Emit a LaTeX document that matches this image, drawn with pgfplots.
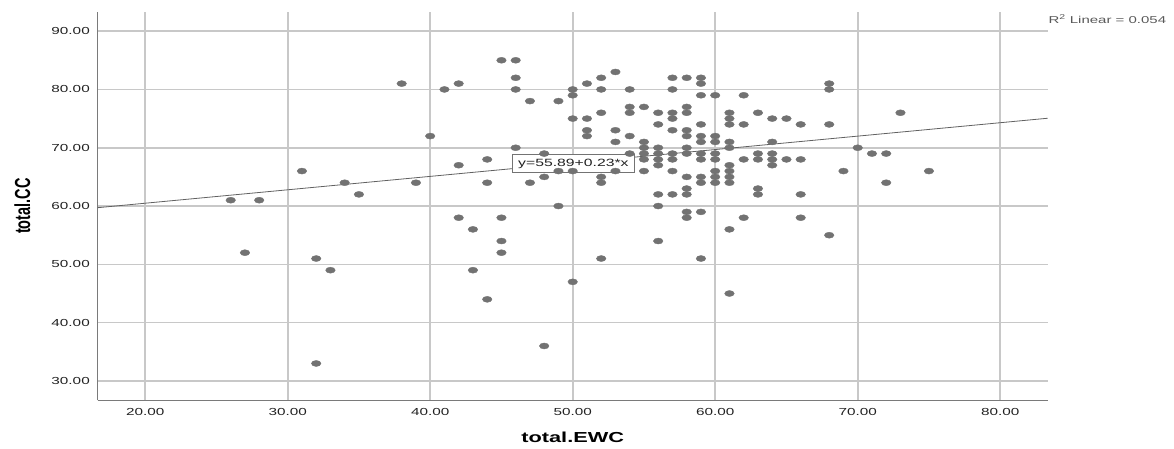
\documentclass[border=0pt]{standalone}
\usepackage{pgfplots}
\pgfplotsset{compat=1.18}
\usepackage{pgfplotstable}
\usepackage{fontspec}
\setmainfont{Liberation Sans}[FakeStretch=1.5]
\newfontfamily\ylabfont{Liberation Sans}
\definecolor{dotgray}{HTML}{727272}
\definecolor{gridgray}{HTML}{C8C8C8}
\definecolor{axisgray}{HTML}{7A7A7A}
\definecolor{txtgray}{HTML}{222222}

\pgfplotstableread{
x y
26 61
27 52
28 61
31 66
32 51
32 33
33 49
34 64
35 62
38 81
39 64
40 72
41 80
42 81
42 67
42 58
43 56
43 49
44 68
44 64
44 44
45 85
45 58
45 54
45 52
46 85
46 82
46 80
46 70
47 78
47 64
48 69
48 65
48 36
49 78
49 66
49 60
50 80
50 79
50 75
50 66
50 47
51 81
51 75
51 73
51 72
52 82
52 80
52 76
52 65
52 64
52 51
53 83
53 73
53 71
53 66
54 80
54 77
54 76
54 72
54 69
55 77
55 71
55 70
55 69
55 68
55 66
56 76
56 74
56 70
56 69
56 68
56 67
56 62
56 60
56 54
57 82
57 80
57 76
57 75
57 73
57 69
57 68
57 66
57 62
58 82
58 77
58 76
58 73
58 72
58 70
58 69
58 65
58 63
58 62
58 59
58 58
59 82
59 81
59 79
59 74
59 72
59 71
59 69
59 68
59 65
59 64
59 59
59 51
60 79
60 72
60 71
60 69
60 68
60 66
60 65
60 64
61 76
61 75
61 74
61 71
61 70
61 67
61 66
61 65
61 64
61 56
61 45
62 79
62 74
62 68
62 58
63 76
63 69
63 68
63 63
63 62
64 75
64 71
64 69
64 68
64 67
65 75
65 68
66 74
66 68
66 62
66 58
68 81
68 80
68 74
68 55
69 66
70 70
71 69
72 69
72 64
73 76
75 66
}\datatable

\begin{document}
\begin{tikzpicture}
\path[use as bounding box] (-97.7pt,-47.7pt) rectangle (1076.3pt,400.4pt);
\begin{axis}[
  at={(0pt,0pt)}, anchor=south west,
  scale only axis, width=950pt, height=388.7pt,
  xmin=16.6667, xmax=83.3333, ymin=26.6667, ymax=93.3333,
  xtick={20,30,...,80}, ytick={30,40,...,90},
  axis x line*=bottom, axis y line*=left,
  axis line style={draw=axisgray, line width=1.3pt},
  grid=major, major grid style={draw=gridgray, line width=1.6pt},
  major tick length=0pt,
  tick style={draw=none},
  ticklabel style={font=\fontsize{10.2}{12}\selectfont, text=txtgray},
  xticklabel style={anchor=base, yshift=-14.7pt},
  yticklabel style={anchor=east, xshift=-4.4pt},
  /pgf/number format/fixed,
  /pgf/number format/fixed zerofill,
  /pgf/number format/precision=2,
  /pgf/number format/assume math mode=true,
  xlabel={total.EWC},
  xlabel style={at={(axis description cs:0.5,-0.109)}, anchor=base, font=\fontsize{14.5}{16}\selectfont\bfseries},
  ylabel={\scalebox{1}[1.5]{\ylabfont\bfseries\fontsize{14.5}{16}\selectfont total.CC}},
  ylabel style={at={(axis description cs:-0.0792,0.5)}, anchor=center},
  clip=false,
]
\addplot[draw=black!62, line width=0.8pt, forget plot] coordinates {(16.6667,59.72) (83.3333,75.06)};
\addplot[only marks, color=dotgray, mark=*, mark size=3.0pt, mark options={draw=dotgray, fill=dotgray, line width=0.4pt, xscale=1.6}] table[x=x,y=y] {\datatable};
\node[draw=black!55, fill=white, line width=0.6pt, inner xsep=6pt, inner ysep=4.2pt, font=\fontsize{10.5}{12}\selectfont, text=txtgray] at (axis cs:50.05,67.3) {y=55.89+0.23*x};
\end{axis}
\node[anchor=west, inner sep=0pt, font=\fontsize{10}{12}\selectfont, text=black!65] at (950.6pt,381.1pt) {R\textsuperscript{2} Linear = 0.054};
\end{tikzpicture}
\end{document}
